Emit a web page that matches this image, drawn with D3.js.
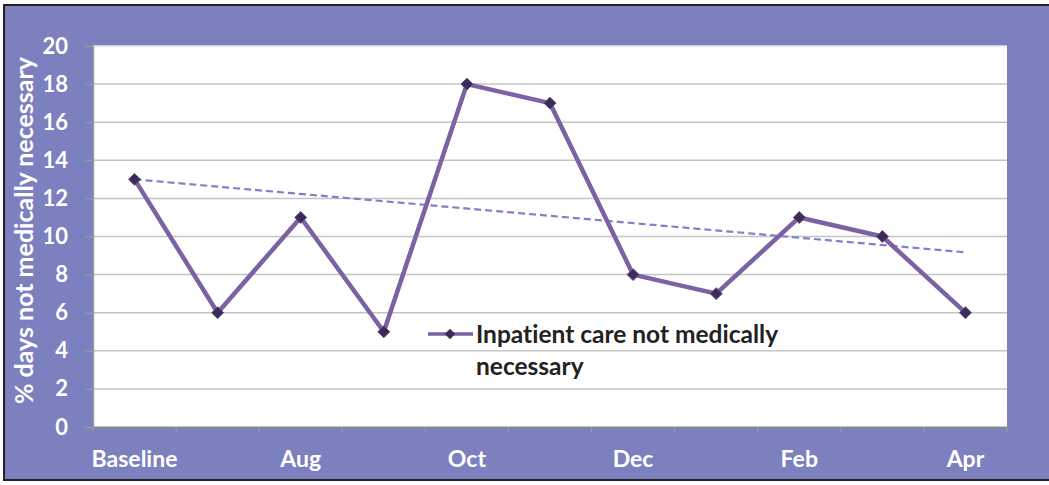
<!DOCTYPE html>
<meta charset="utf-8">
<html>
<head>
  <style>
    body { margin: 0; background: #fff; }
    svg { display: block; }
    text { font-family: Lato, "Open Sans", sans-serif; font-weight: bold; font-variant-ligatures: none; }
  </style>
</head>
<body>
  <svg id="viz" width="1049" height="485"></svg>
  <script src="https://d3js.org/d3.v7.min.js"></script>
  <script>
    var months = ["Baseline", "Jul", "Aug", "Sep", "Oct", "Nov", "Dec", "Jan", "Feb", "Mar", "Apr"];
    var shownLabels = ["Baseline", "Aug", "Oct", "Dec", "Feb", "Apr"];
    var values = [13, 6, 11, 5, 18, 17, 8, 7, 11, 10, 6];
    var trendEnds = [13, 9.17]; // linear trendline, first and last month
    var yTicks = [0, 2, 4, 6, 8, 10, 12, 14, 16, 18, 20];
    var seriesName = ["Inpatient care not medically", "necessary"];

    function drawChart() {
      var svg = d3.select("#viz");
      var pLeft = 93, pRight = 1007, pTop = 46, pBottom = 427;

      // frame + purple background
      svg.append("rect").attr("x", 4).attr("y", 5).attr("width", 1050).attr("height", 475)
        .attr("fill", "#7c80bf").attr("stroke", "#222").attr("stroke-width", 2);

      svg.append("rect").attr("x", pLeft).attr("y", pTop)
        .attr("width", pRight - pLeft).attr("height", pBottom - pTop).attr("fill", "#fff");

      var x = d3.scaleBand().domain(months).range([pLeft, pRight]);
      var y = d3.scaleLinear().domain([0, 20]).range([pBottom, pTop]);
      var cx = d => x(d) + x.bandwidth() / 2;

      // gridlines
      svg.append("g").selectAll("line").data(yTicks.slice(1)).join("line")
        .attr("x1", pLeft).attr("x2", pRight)
        .attr("y1", d => y(d)).attr("y2", d => y(d))
        .attr("stroke", d => d === 20 ? "#e6e6e6" : "#c4c4c4").attr("stroke-width", 1.5);

      // y axis
      var yAxis = svg.append("g").attr("transform", "translate(" + pLeft + ",0)")
        .call(d3.axisLeft(y).tickValues(yTicks).tickSize(8).tickPadding(17));
      yAxis.select(".domain").attr("stroke", "#9a9a9a").attr("stroke-width", 1.5);
      yAxis.selectAll(".tick line").attr("stroke", "#9a9a9a");
      yAxis.selectAll("text").attr("fill", "#fff").attr("font-size", 22)
        .attr("font-family", "Lato, sans-serif").attr("font-weight", "bold");

      // x axis
      var xAxis = svg.append("g").attr("transform", "translate(0," + pBottom + ")")
        .call(d3.axisBottom(x).tickSize(0).tickPadding(24)
          .tickFormat(d => shownLabels.includes(d) ? d : ""));
      xAxis.select(".domain").attr("stroke", "#8a8a8a").attr("stroke-width", 2);
      xAxis.selectAll("text").attr("fill", "#fff").attr("font-size", 23)
        .attr("font-family", "Lato, sans-serif").attr("font-weight", "bold");
      svg.append("g").selectAll("line").data(months.concat(["end"])).join("line")
        .attr("x1", (d, i) => pLeft + i * x.step()).attr("x2", (d, i) => pLeft + i * x.step())
        .attr("y1", pBottom).attr("y2", pBottom + 6)
        .attr("stroke", "#9a9a9a").attr("stroke-width", 1.2);

      // y title
      svg.append("text")
        .attr("transform", "translate(33," + ((pTop + pBottom) / 2 - 6) + ") rotate(-90)")
        .attr("text-anchor", "middle").attr("fill", "#fff").attr("font-size", 25)
        .text("% days not medically necessary");

      // trendline
      svg.append("line")
        .attr("x1", cx(months[0])).attr("y1", y(trendEnds[0]))
        .attr("x2", cx(months[months.length - 1])).attr("y2", y(trendEnds[1]))
        .attr("stroke", "#8080c8").attr("stroke-width", 2.2).attr("stroke-dasharray", "7,4");

      // series
      var line = d3.line().x((d, i) => cx(months[i])).y(d => y(d));
      svg.append("path").datum(values).attr("d", line)
        .attr("fill", "none").attr("stroke", "#7b62a3").attr("stroke-width", 4.5)
        .attr("stroke-linejoin", "round");

      var diamond = d3.symbol().type(d3.symbolDiamond2).size(90);
      svg.append("g").selectAll("path").data(values).join("path")
        .attr("d", diamond)
        .attr("transform", (d, i) => "translate(" + cx(months[i]) + "," + y(d) + ")")
        .attr("fill", "#3c2c55").attr("stroke", "#5a4880").attr("stroke-width", 1);

      // legend
      var lg = svg.append("g").attr("transform", "translate(428,334)");
      lg.append("line").attr("x1", 0).attr("x2", 45).attr("y1", 0).attr("y2", 0)
        .attr("stroke", "#7b62a3").attr("stroke-width", 3.5);
      lg.append("path").attr("d", d3.symbol().type(d3.symbolDiamond2).size(70))
        .attr("transform", "translate(22,0)").attr("fill", "#3c2c55");
      lg.selectAll("text").data(seriesName).join("text")
        .attr("x", 48).attr("y", (d, i) => 9 + i * 32)
        .attr("fill", "#222").attr("font-size", 24.5).text(d => d);
    }

    drawChart();
  </script>
</body>
</html>
